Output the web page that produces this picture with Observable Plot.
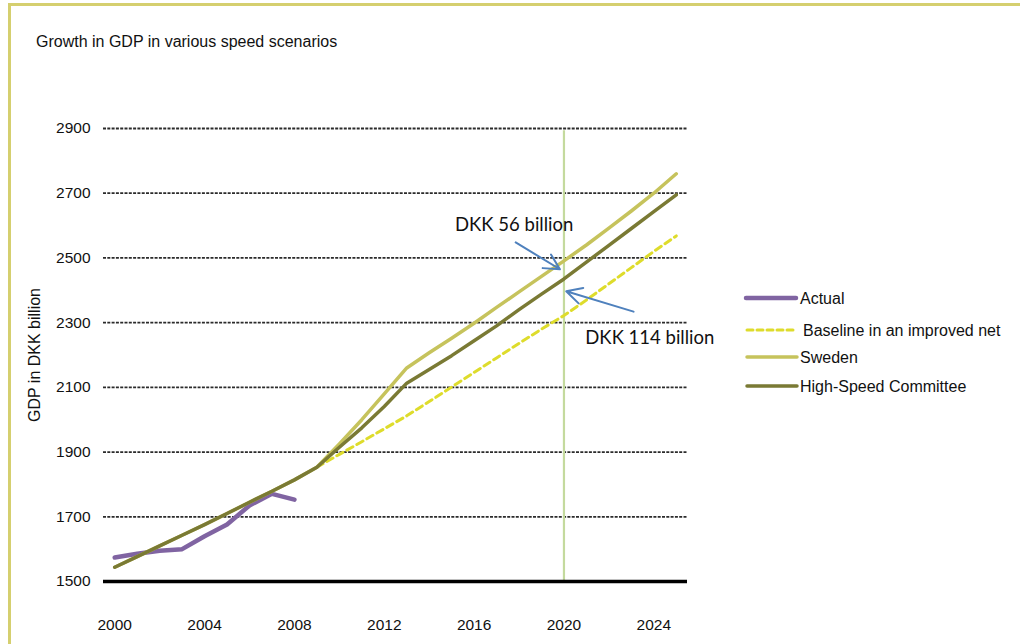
<!DOCTYPE html>
<html>
<head>
<meta charset="utf-8">
<script src="https://cdn.jsdelivr.net/npm/d3@7"></script>
<script src="https://cdn.jsdelivr.net/npm/@observablehq/plot@0.6"></script>
<style>
  html, body { margin: 0; padding: 0; background: #fff; }
  #wrap { position: relative; width: 1020px; height: 644px; overflow: hidden; font-family: "Liberation Sans", Arial, sans-serif; }
  #frame { position: absolute; left: 8px; top: 3px; width: 1100px; height: 700px; border-left: 3px solid #d5cf6f; border-top: 3px solid #d5cf6f; box-sizing: border-box; }
  #title { position: absolute; left: 36px; top: 33px; font-size: 16px; color: #111; }
  #chart { position: absolute; left: 0; top: 0; }
  #legend { position: absolute; left: 0; top: 0; }
</style>
</head>
<body>
<div id="wrap">
  <div id="frame"></div>
  <div id="chart"></div>
  <div id="title">Growth in GDP in various speed scenarios</div>
  <div id="legend"></div>
</div>
<script>
// ---- data ----
const actualYears = [2000, 2001, 2002, 2003, 2004, 2005, 2006, 2007, 2008];
const actualValues = [1574, 1586, 1595, 1600, 1640, 1676, 1735, 1771, 1753];

const earlyYears = [2000, 2001, 2002, 2003, 2004, 2005, 2006, 2007, 2008];
const earlyValues = [1544, 1577, 1610, 1643, 1676, 1710, 1745, 1779, 1814];

const scenarioYears = [2009, 2010, 2011, 2012, 2013, 2014, 2015, 2016, 2017, 2018, 2019, 2020, 2021, 2022, 2023, 2024, 2025];
const baselineValues = [1853, 1893, 1932, 1972, 2012, 2056, 2101, 2146, 2191, 2236, 2280, 2322, 2370, 2420, 2470, 2520, 2568];
const swedenValues = [1853, 1925, 2000, 2080, 2160, 2207, 2252, 2298, 2347, 2395, 2443, 2491, 2540, 2592, 2645, 2700, 2760];
const committeeValues = [1853, 1915, 1975, 2041, 2113, 2155, 2198, 2244, 2290, 2340, 2388, 2435, 2487, 2539, 2591, 2643, 2695];

const xTicks = [2000, 2004, 2008, 2012, 2016, 2020, 2024];
const yTicks = [1500, 1700, 1900, 2100, 2300, 2500, 2700, 2900];
const gridValues = [1700, 1900, 2100, 2300, 2500, 2700, 2900];
const baseValue = 1500;

const markerYear = 2020;
const markerTop = 2893;

const seriesNames = ["Actual", "Baseline in an improved net", "Sweden", "High-Speed Committee"];

const annotations = [
  { year: 2015.15, value: 2603, label: "DKK 56 billion" },
  { year: 2020.95, value: 2251, label: "DKK 114 billion" }
];
const arrows = [
  { x1: 2017.85, y1: 2548, x2: 2019.82, y2: 2465 },
  { x1: 2023.1, y1: 2334, x2: 2020.1, y2: 2397 }
];

// ---- styles ----
const colors = {
  "Actual": "#8064a2",
  "Baseline in an improved net": "#dedc2c",
  "Sweden": "#c6c35c",
  "High-Speed Committee": "#7a7a34"
};

// build tables
const committeeYears = earlyYears.concat(scenarioYears);
const committeeAll = earlyValues.concat(committeeValues);
const swedenYears = earlyYears.concat(scenarioYears);
const swedenAll = earlyValues.concat(swedenValues);

const actual = actualYears.map((y, i) => ({ year: y, value: actualValues[i] }));
const baseline = scenarioYears.map((y, i) => ({ year: y, value: baselineValues[i] }));
const sweden = swedenYears.map((y, i) => ({ year: y, value: swedenAll[i] }));
const committee = committeeYears.map((y, i) => ({ year: y, value: committeeAll[i] }));

const chart = Plot.plot({
  width: 1020,
  height: 644,
  marginLeft: 103,
  marginRight: 333,
  marginTop: 128,
  marginBottom: 63,
  style: { fontFamily: "'Liberation Sans', Arial, sans-serif", fontSize: "15.5px", color: "#111", background: "transparent" },
  x: { domain: [1999.5, 2025.5], ticks: xTicks, tickFormat: "d", tickSize: 0, tickPadding: 37, label: null },
  y: { domain: [1500, 2900], ticks: yTicks, tickFormat: "d", tickSize: 0, tickPadding: 13, label: null },
  marks: [
    Plot.ruleY(gridValues, { stroke: "#2b2b2b", strokeWidth: 1.8, strokeDasharray: "3,1.3" }),
    Plot.ruleX([markerYear], { y1: baseValue, y2: markerTop, stroke: "#c4da9e", strokeWidth: 2.2 }),
    Plot.ruleY([baseValue], { stroke: "#000", strokeWidth: 3.5 }),
    Plot.line(actual, { x: "year", y: "value", stroke: colors["Actual"], strokeWidth: 4.5, strokeLinecap: "round", strokeLinejoin: "round" }),
    Plot.line(baseline, { x: "year", y: "value", stroke: colors["Baseline in an improved net"], strokeWidth: 3, strokeDasharray: "7,4.5" }),
    Plot.line(sweden, { x: "year", y: "value", stroke: colors["Sweden"], strokeWidth: 3.5, strokeLinecap: "round", strokeLinejoin: "round" }),
    Plot.line(committee, { x: "year", y: "value", stroke: colors["High-Speed Committee"], strokeWidth: 3.5, strokeLinecap: "round", strokeLinejoin: "round" }),
    Plot.arrow(arrows, { x1: "x1", y1: "y1", x2: "x2", y2: "y2", stroke: "#4f81bd", strokeWidth: 2, headLength: 13, headAngle: 55 }),
    Plot.text(annotations, { x: "year", y: "value", text: "label", textAnchor: "start", fontFamily: "Lato, 'Open Sans', sans-serif", fontSize: 18.5, fill: "#111" }),
    Plot.text(["GDP in DKK billion"], { frameAnchor: "left", textAnchor: "middle", lineAnchor: "middle", dx: -69, rotate: -90, fontSize: 16, fill: "#111" })
  ]
});
document.getElementById("chart").appendChild(chart);

// legend
const legendRows = [
  { top: 298, lineX: 746, textX: 800, width: 4.5, dash: null },
  { top: 330, lineX: 747, textX: 803, width: 3, dash: "6,4" },
  { top: 357, lineX: 747, textX: 800, width: 3.5, dash: null },
  { top: 386, lineX: 747, textX: 800, width: 3.5, dash: null }
];
const lg = document.getElementById("legend");
const svgNS = "http://www.w3.org/2000/svg";
const lsvg = document.createElementNS(svgNS, "svg");
lsvg.setAttribute("width", 1020);
lsvg.setAttribute("height", 644);
lsvg.style.position = "absolute";
lsvg.style.left = "0px";
lsvg.style.top = "0px";
lg.appendChild(lsvg);
seriesNames.forEach((name, i) => {
  const r = legendRows[i];
  const ln = document.createElementNS(svgNS, "line");
  ln.setAttribute("x1", r.lineX);
  ln.setAttribute("x2", r.lineX + 50);
  ln.setAttribute("y1", r.top);
  ln.setAttribute("y2", r.top);
  ln.setAttribute("stroke", colors[name]);
  ln.setAttribute("stroke-width", r.width);
  ln.setAttribute("stroke-linecap", "round");
  if (r.dash) ln.setAttribute("stroke-dasharray", r.dash);
  lsvg.appendChild(ln);
  const t = document.createElementNS(svgNS, "text");
  t.setAttribute("x", r.textX);
  t.setAttribute("y", r.top);
  t.setAttribute("dy", "0.35em");
  t.setAttribute("font-size", "16px");
  t.setAttribute("font-family", "'Liberation Sans', Arial, sans-serif");
  t.setAttribute("fill", "#111");
  t.textContent = name;
  lsvg.appendChild(t);
});
</script>
</body>
</html>
